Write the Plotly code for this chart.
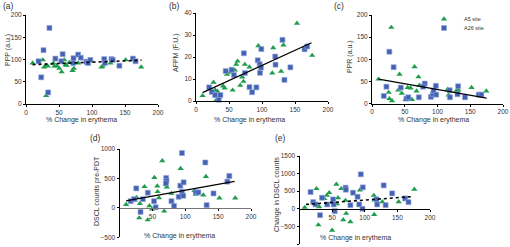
import plotly.graph_objects as go

W, H = 510, 247

# ---------------- data ----------------
# Panel (a) PPP (a.u.)
a_g_x = [10, 25.5, 27.5, 30, 30.5, 33, 41.5, 43, 47, 50.5, 54, 58, 60, 61.5, 65.5, 70.5, 72.5, 79, 93, 114.5, 116, 128, 151, 174.5]
a_g_y = [92, 99, 83, 86, 19, 85, 92, 85, 85, 80, 72, 99, 88, 87, 93, 75, 80, 92, 92.5, 83, 85, 92, 99, 83]
a_b_x = [19, 23, 26.5, 33.5, 35.5, 44.5, 53.5, 55.5, 71.5, 72, 79, 83, 91.5, 94, 97.5, 118.5, 119.5, 129.5, 131.5, 141.5, 162, 166]
a_b_y = [96, 60, 121, 26, 171, 102, 96, 112, 92, 103, 111, 104, 95, 92, 99, 101, 92, 101, 99, 86, 102, 96]
fit_a_x = [10, 175]
fit_a_y = [88.5, 98.5]

# Panel (b) AFPM (F.U.)
b_g_x = [10, 26.5, 29, 31, 32.5, 41, 43.5, 47, 51, 55.5, 59, 61, 63, 67, 70, 72, 74, 81, 94.5, 115.5, 117, 129, 132.5, 153, 176]
b_g_y = [2.4, 8.5, 5, 0.5, 4.4, 6.8, 5.9, 12.1, 13, 4.9, 14, 16.6, 18.1, 7.1, 10.9, 8.9, 16.6, 15.4, 25.1, 12.7, 24.2, 13.5, 25.4, 35.3, 20.7]
b_b_x = [20, 24, 29, 34.5, 37, 45, 54, 57.5, 72.5, 74, 81, 85, 91.5, 93.5, 96.5, 97, 99, 98.5, 120, 120.5, 131, 134, 143, 164.5, 168.5]
b_b_y = [6.2, 4.1, 2.7, 0.6, 2.7, 13.6, 14.2, 11.8, 21.7, 12.7, 6.3, 4, 6.2, 18.5, 16.7, 12.8, 23.6, 15.2, 20.2, 16.5, 27.8, 9.6, 15.3, 23.5, 24.8]
fit_b_x = [10, 175]
fit_b_y = [3.8, 26.5]

# Panel (c) PPR (a.u.)
c_g_x = [10, 25.5, 26.5, 29.5, 30.5, 40, 42, 45.5, 51, 54.5, 59, 61, 65, 68, 71, 72.5, 115.5, 117, 129, 132, 152, 174.5]
c_g_y = [55, 25, 11, 172, 6, 30, 66, 23, 9, 36, 35, 9, 83, 28, 60, 41, 32, 19, 29, 30, 36, 28]
c_b_x = [18, 22, 26.5, 33, 44, 52.5, 55.5, 71.5, 80.5, 78, 90, 93, 94, 97.5, 98, 118.5, 119, 131.5, 130.5, 142, 163, 167]
c_b_y = [17, 38, 117, 82, 36, 11, 14, 14, 45, 38, 15, 21, 29, 40, 20, 30, 14, 39, 21, 14, 20, 20]
fit_c_x = [10, 175]
fit_c_y = [55, 12]

# Panel (d) DSCL counts pre-PDT
d_g_x = [10, 23.5, 26, 30, 31, 38, 43, 45.5, 49.5, 53, 57.5, 58, 60, 65, 68, 70.5, 72, 79, 93, 114, 116, 127.5, 131.5, 152, 176]
d_g_y = [57, 131, 177, -172, 74, 360, -205, 34, -23, 514, 371, 274, 171, 800, -57, 400, 354, 245, 668, 291, 228, 217, 531, 166, 166]
d_b_x = [17, 22, 25.5, 32, 35.5, 43, 52.5, 55, 71, 71.5, 70.5, 79, 83, 90, 92.5, 95, 95, 97.5, 97, 116, 120, 130.5, 132.5, 143, 164, 167]
d_b_y = [114, 148, 331, -69, 148, 257, 114, 10, 508, 457, 417, 114, 34, 188, 377, 931, 274, 434, 206, 263, 263, 771, 46, 245, 445, 542]
fit_d_x = [10, 175]
fit_d_y = [120, 450]

# Panel (e) Change in DSCL counts
e_g_x = [8, 26, 28.5, 29, 30, 38, 42, 45.5, 50, 56.5, 57.5, 59, 64, 67, 70.5, 71.5, 78, 92.5, 114, 114.5, 115, 127, 152, 176]
e_g_y = [38, 571, 95, -457, 57, 286, 381, 457, -610, 695, 143, 314, 571, -314, 238, -133, -371, 533, 381, -162, 247, 200, 200, 552]
e_b_x = [17, 21, 24.5, 31.5, 34.5, 42.5, 51.5, 52.5, 54, 70.5, 71, 78, 82, 89, 91.5, 94, 97, 96.5, 118, 119, 129, 132, 142, 162, 167]
e_b_y = [476, 190, 124, -181, 314, 124, 267, 124, -67, 600, 543, 105, 457, 343, 124, 980, 609, 0, 267, 124, 666, 105, 438, 295, 190]
fit_e_x = [10, 175]
fit_e_y = [125, 350]

series_names = ["A5 site", "A26 site"]
x_title = "% Change in erythema"
panel_labels = ["(a)", "(b)", "(c)", "(d)", "(e)"]
y_titles = ["PPP (a.u.)", "AFPM (F.U.)", "PPR (a.u.)", "DSCL counts pre-PDT", "Change in DSCL counts"]

# ---------------- styling / layout ----------------
FONT = "Liberation Sans, Arial, sans-serif"
TXT = "#333333"
GREEN = "#1f9d4c"
BLUE = "#4462b4"

def px_x(p):
    return p / W

def px_y(p):
    return 1 - p / H

# pixel boxes: (left, right, top, bottom)
boxes = {
    1: (26, 158, 15, 104),
    2: (196, 328, 13, 101),
    3: (372, 503, 15, 103.5),
    4: (119.5, 251, 149, 237.3),
    5: (299.5, 430, 156, 244),
}

fig = go.Figure()

panels = [
    (1, a_g_x, a_g_y, a_b_x, a_b_y, fit_a_x, fit_a_y, "dot"),
    (2, b_g_x, b_g_y, b_b_x, b_b_y, fit_b_x, fit_b_y, "solid"),
    (3, c_g_x, c_g_y, c_b_x, c_b_y, fit_c_x, fit_c_y, "solid"),
    (4, d_g_x, d_g_y, d_b_x, d_b_y, fit_d_x, fit_d_y, "solid"),
    (5, e_g_x, e_g_y, e_b_x, e_b_y, fit_e_x, fit_e_y, "dot"),
]

for i, gx, gy, bx, by, fx, fy, dash in panels:
    xa = "x" if i == 1 else f"x{i}"
    ya = "y" if i == 1 else f"y{i}"
    show = (i == 3)
    fig.add_trace(go.Scatter(
        x=gx, y=gy, mode="markers", xaxis=xa, yaxis=ya, cliponaxis=False,
        name=series_names[0], showlegend=show, legend="legend",
        marker=dict(symbol="triangle-up", size=5.5, color=GREEN, line=dict(width=0))))
    fig.add_trace(go.Scatter(
        x=bx, y=by, mode="markers", xaxis=xa, yaxis=ya, cliponaxis=False,
        name=series_names[1], showlegend=show, legend="legend2",
        marker=dict(symbol="square", size=5, color=BLUE, line=dict(width=0.6, color="#93a6da"))))
    fig.add_trace(go.Scatter(
        x=fx, y=fy, mode="lines", xaxis=xa, yaxis=ya, showlegend=False,
        line=dict(color="black", width=1.6 if dash == "dot" else 1.2, dash=dash)))

tickfont = dict(family=FONT, size=6.5, color=TXT)
axis_common = dict(showgrid=False, zeroline=False, showline=True, linecolor="black",
                   linewidth=1, ticks="outside", ticklen=2, tickwidth=1, tickcolor="black",
                   tickfont=tickfont, fixedrange=True, showticklabels=True,
                   automargin=False, ticklabelstandoff=0)

yranges = {1: [0, 200], 2: [0, 40], 3: [0, 200], 4: [-500, 1000], 5: [-1000, 1500]}
ydticks = {1: 50, 2: 10, 3: 50, 4: 500, 5: 500}

layout = dict(
    width=W, height=H, margin=dict(l=0, r=0, t=0, b=0),
    paper_bgcolor="white", plot_bgcolor="rgba(0,0,0,0)",
    font=dict(family=FONT, color=TXT),
)

for i, (l, r, t, b) in boxes.items():
    xk = "xaxis" if i == 1 else f"xaxis{i}"
    yk = "yaxis" if i == 1 else f"yaxis{i}"
    xa = "x" if i == 1 else f"x{i}"
    ya = "y" if i == 1 else f"y{i}"
    ydom = [px_y(b), px_y(t)]
    lo, hi = yranges[i]
    xax = dict(axis_common, domain=[px_x(l), px_x(r)], range=[0, 200])
    yax = dict(axis_common, domain=ydom, range=yranges[i], dtick=ydticks[i],
               tick0=lo, anchor=xa)
    if i <= 3:
        xax.update(anchor=ya, dtick=50, tick0=0)
    else:
        zero_pos = ydom[0] + (0 - lo) / (hi - lo) * (ydom[1] - ydom[0])
        xax.update(anchor="free", position=zero_pos, tickvals=[50, 100, 150, 200],
                   linecolor="#777777" if i == 4 else "black", linewidth=1.4 if i == 4 else 1.1)
    layout[xk] = xax
    layout[yk] = yax

# titles as annotations
ann = []
xt_pos = {1: (81, 119.5), 2: (249, 119.5), 3: (433, 119.5), 4: (179, 236), 5: (355, 238)}
yt_pos = {1: (8, 50), 2: (176, 53), 3: (350, 57), 4: (97, 191), 5: (277, 195)}
lab_pos = {1: (1, 6), 2: (167, 6), 3: (332, 6), 4: (88, 138), 5: (273, 138)}
for i in range(1, 6):
    x0, y0 = xt_pos[i]
    ann.append(dict(text=x_title, x=px_x(x0), y=px_y(y0), xref="paper", yref="paper",
                    showarrow=False, xanchor="center", yanchor="middle",
                    font=dict(family=FONT, size=7, color=TXT)))
    x0, y0 = yt_pos[i]
    ann.append(dict(text=y_titles[i - 1], x=px_x(x0), y=px_y(y0), xref="paper", yref="paper",
                    showarrow=False, xanchor="center", yanchor="middle", textangle=-90,
                    font=dict(family=FONT, size=7, color=TXT)))
    x0, y0 = lab_pos[i]
    ann.append(dict(text=panel_labels[i - 1], x=px_x(x0), y=px_y(y0), xref="paper", yref="paper",
                    showarrow=False, xanchor="left", yanchor="middle",
                    font=dict(family=FONT, size=8.5, color=TXT)))
layout["annotations"] = ann

leg_common = dict(bgcolor="rgba(0,0,0,0)", borderwidth=0, font=dict(family=FONT, size=5.5, color=TXT),
                  xanchor="left", yanchor="middle", itemwidth=30, tracegroupgap=0)
layout["legend"] = dict(leg_common, x=px_x(424), y=px_y(19))
layout["legend2"] = dict(leg_common, x=px_x(424), y=px_y(28))

fig.update_layout(**layout)
fig.write_html("out.html", config={"displayModeBar": False, "staticPlot": True},
               post_script="document.body.style.margin='0';document.body.style.overflow='hidden';")
